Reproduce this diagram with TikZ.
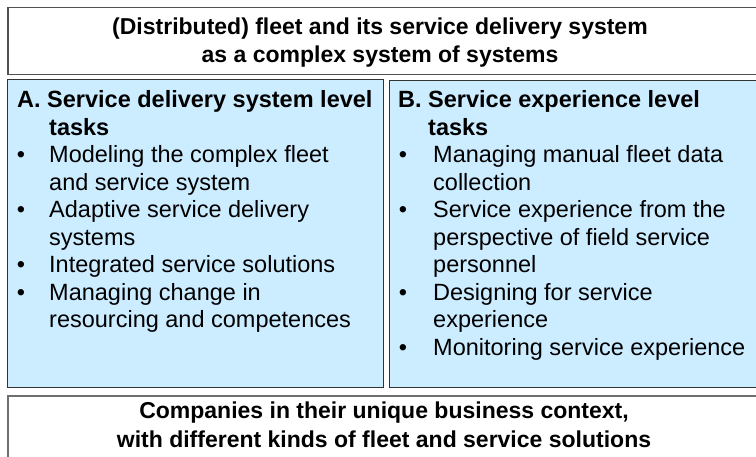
\documentclass[tikz,border=0pt]{standalone}
\usepackage{fontspec}
\setmainfont{Liberation Sans}
\definecolor{boxblue}{HTML}{CCECFF}
\definecolor{edgeA}{HTML}{333333}
\definecolor{edgeT}{HTML}{505050}
\definecolor{edgeB}{HTML}{6E6E6E}
\begin{document}
\begin{tikzpicture}[x=1pt,y=-1pt,
  frame/.style={draw=edgeT,line width=1.5pt,rectangle,inner sep=0pt,anchor=north west},
  taskbox/.style={draw=edgeA,fill=boxblue,line width=1.3pt,rectangle,inner sep=0pt,anchor=north west},
  txt/.style={anchor=base west,inner sep=0pt,font=\fontsize{23.5}{27.5}\selectfont},
  hdr/.style={anchor=base west,inner sep=0pt,font=\fontsize{23.5}{27.5}\selectfont\bfseries},
  ctr/.style={anchor=base,inner sep=0pt,font=\fontsize{23}{27.5}\selectfont\bfseries},
  bul/.style={anchor=base,inner sep=0pt,font=\fontsize{23.5}{27.5}\selectfont}
]
\useasboundingbox (0,0) rectangle (756,457);
% boxes
\node[frame,minimum width=755pt,minimum height=67pt] (top) at (7,7) {};
\node[taskbox,minimum width=376pt,minimum height=308pt] (boxA) at (7,79) {};
\node[taskbox,minimum width=373pt,minimum height=307pt] (boxB) at (389,80) {};
\node[draw=edgeB,line width=2pt,rectangle,inner sep=0pt,anchor=north west,minimum width=755pt,minimum height=70pt] (bottom) at (7,395) {};
% title
\node[ctr] (t1) at (380,35) {(Distributed) fleet and its service delivery system};
\node[ctr] (t2) at (380,63) {as a complex system of systems};
% box A
\node[hdr] (a0) at (17,108) {A. Service delivery system level};
\node[hdr] (a1) at (49,135.5) {tasks};
\node[bul] (ab1) at (21,163) {•};
\node[txt] (a2) at (49,163) {Modeling the complex fleet};
\node[txt] (a3) at (49,190.5) {and service system};
\node[bul] (ab2) at (21,218) {•};
\node[txt] (a4) at (49,218) {Adaptive service delivery};
\node[txt] (a5) at (49,245.5) {systems};
\node[bul] (ab3) at (21,273) {•};
\node[txt] (a6) at (49,273) {Integrated service solutions};
\node[bul] (ab4) at (21,300.5) {•};
\node[txt] (a7) at (49,300.5) {Managing change in};
\node[txt] (a8) at (49,328) {resourcing and competences};
% box B
\node[hdr] (b0) at (398,108) {B. Service experience level};
\node[hdr] (b1) at (428,135.5) {tasks};
\node[bul] (bb1) at (403,163) {•};
\node[txt] (b2) at (433,163) {Managing manual fleet data};
\node[txt] (b3) at (433,190.5) {collection};
\node[bul] (bb2) at (403,218) {•};
\node[txt] (b4) at (433,218) {Service experience from the};
\node[txt] (b5) at (433,245.5) {perspective of field service};
\node[txt] (b6) at (433,273) {personnel};
\node[bul] (bb3) at (403,300.5) {•};
\node[txt] (b7) at (433,300.5) {Designing for service};
\node[txt] (b8) at (433,328) {experience};
\node[bul] (bb4) at (403,355.5) {•};
\node[txt] (b9) at (433,355.5) {Monitoring service experience};
% bottom
\node[ctr] (c1) at (384,419) {Companies in their unique business context,};
\node[ctr] (c2) at (384,447) {with different kinds of fleet and service solutions};
\end{tikzpicture}
\end{document}
